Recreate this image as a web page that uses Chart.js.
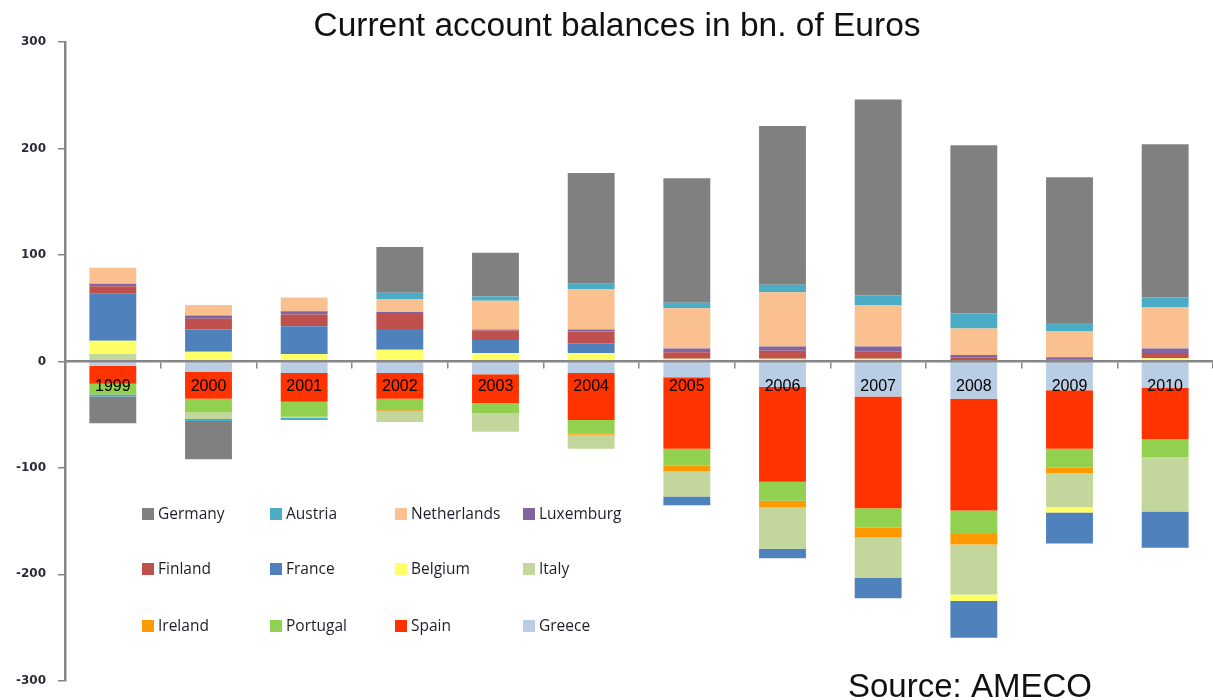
<!DOCTYPE html>
<html>
<head>
<meta charset="utf-8">
<script src="https://cdn.jsdelivr.net/npm/chart.js@4.4.1/dist/chart.umd.min.js"></script>
<style>
  body { margin: 0; background: #fff; }
  .wrap { position: relative; width: 1213px; height: 700px; }
  .legend { position: absolute; left: 0; top: 0; font-family: "Open Sans", sans-serif; font-size: 15.5px; color: #1e1e2a; }
  .legend .item { position: absolute; white-space: nowrap; line-height: 18px; }
  .legend .box { display: inline-block; width: 12px; height: 12px; margin-right: 4px; vertical-align: -1px; }
</style>
</head>
<body>
<div class="wrap">
  <canvas id="chart"></canvas>
  <div class="legend" id="legend"></div>
</div>
<script>
const years = ['1999', '2000', '2001', '2002', '2003', '2004', '2005', '2006', '2007', '2008', '2009', '2010'];
const yTicks = [-300, -200, -100, 0, 100, 200, 300];

// stacking order from zero outward
const greece      = [-4, -10, -11, -11, -12, -11, -15, -24, -33, -35, -27, -25];
const spain       = [-17, -25, -27, -24, -27, -44, -67, -89, -105, -105, -55, -48];
const portugal    = [-10, -13, -14, -11, -10, -13, -16, -18, -18, -22, -18, -17];
const ireland     = [0, 0, 0, -1, 0, -1, -5, -6, -9.5, -10, -5, 0];
const italy       = [7, -6, -1, -10, -17, -13, -24, -39, -38, -47, -32, -51];
const belgium     = [12.5, 9, 7, 11, 8, 8, 2.5, 2.5, 2.5, -6, -5, 3];
const france      = [44, 21, 26, 19.5, 12, 9, -8, -9, -19, -34.5, -29, -34];
const finland     = [7, 10, 11, 14, 9, 11, 6, 7.5, 7, 4, 2, 5];
const luxembourg  = [2.5, 3, 3, 2, 1, 2, 3.5, 4, 4.5, 2, 2, 4];
const netherlands = [15, 10, 13, 12, 27, 38, 38, 51, 39, 25, 24.5, 39];
const austria     = [-2, -2, -2, 6, 4, 5, 5, 7, 9, 14, 7.5, 9];
const germany     = [-25, -36, 0, 43, 41, 104, 117, 149, 184, 158, 137, 144];

const series = [
  { label: 'Greece', data: greece, color: '#b9cde5' },
  { label: 'Spain', data: spain, color: '#ff3300' },
  { label: 'Portugal', data: portugal, color: '#92d050' },
  { label: 'Ireland', data: ireland, color: '#ff9900' },
  { label: 'Italy', data: italy, color: '#c3d69b' },
  { label: 'Belgium', data: belgium, color: '#ffff66' },
  { label: 'France', data: france, color: '#4f81bd' },
  { label: 'Finland', data: finland, color: '#c0504d' },
  { label: 'Luxemburg', data: luxembourg, color: '#8064a2' },
  { label: 'Netherlands', data: netherlands, color: '#fac090' },
  { label: 'Austria', data: austria, color: '#4bacc6' },
  { label: 'Germany', data: germany, color: '#808080' },
];

// legend, 4 columns x 3 rows, Germany first
const legendCols = [142, 270, 395, 523];
const legendRows = [513, 568, 625];
const legendEl = document.getElementById('legend');
series.slice().reverse().forEach((s, i) => {
  const div = document.createElement('div');
  div.className = 'item';
  div.style.left = legendCols[i % 4] + 'px';
  div.style.top = (legendRows[Math.floor(i / 4)] - 9) + 'px';
  div.innerHTML = '<span class="box" style="background:' + s.color + '"></span>' + s.label;
  legendEl.appendChild(div);
});

const overlayText = {
  id: 'overlayText',
  afterDraw(chart) {
    const ctx = chart.ctx;
    ctx.save();
    ctx.fillStyle = '#111';
    ctx.font = '33.5px "Liberation Sans", Arial, sans-serif';
    ctx.textAlign = 'center';
    ctx.textBaseline = 'alphabetic';
    ctx.fillText('Current account balances in bn. of Euros', 617, 36);
    ctx.font = '33px "Liberation Sans", Arial, sans-serif';
    ctx.textAlign = 'left';
    ctx.fillText('Source: AMECO', 848, 697);
    ctx.restore();
  }
};

new Chart(document.getElementById('chart'), {
  type: 'bar',
  data: {
    labels: years,
    datasets: series.map(s => ({
      label: s.label,
      data: s.data,
      backgroundColor: s.color,
      borderWidth: 0,
      barPercentage: 0.49,
      categoryPercentage: 1,
    })),
  },
  options: {
    responsive: true,
    maintainAspectRatio: false,
    animation: false,
    layout: { padding: { top: 42, bottom: 19, left: 0, right: 0 } },
    plugins: {
      legend: { display: false },
      title: { display: false },
      tooltip: { enabled: false },
    },
    scales: {
      x: {
        stacked: true,
        position: { y: 0 },
        grid: { drawOnChartArea: false, tickLength: 6, color: '#868686', lineWidth: 1.5 },
        border: { color: '#868686', width: 2.5, z: 1 },
        ticks: {
          z: 1,
          padding: 10,
          color: '#000',
          font: { family: '"Liberation Sans", Arial, sans-serif', size: 16 },
        },
      },
      y: {
        stacked: true,
        min: -300,
        max: 300,
        afterBuildTicks(scale) {
          scale.ticks = yTicks.map(v => ({ value: v }));
        },
        afterFit(scale) {
          scale.width = 65;
        },
        grid: { drawOnChartArea: false, tickLength: 7, color: '#868686', lineWidth: 1.5 },
        border: { color: '#868686', width: 2.5 },
        ticks: {
          padding: 12,
          color: '#2b2b3a',
          font: { family: '"DejaVu Sans", sans-serif', size: 12, weight: 'bold' },
        },
      },
    },
  },
  plugins: [overlayText],
});
</script>
</body>
</html>
